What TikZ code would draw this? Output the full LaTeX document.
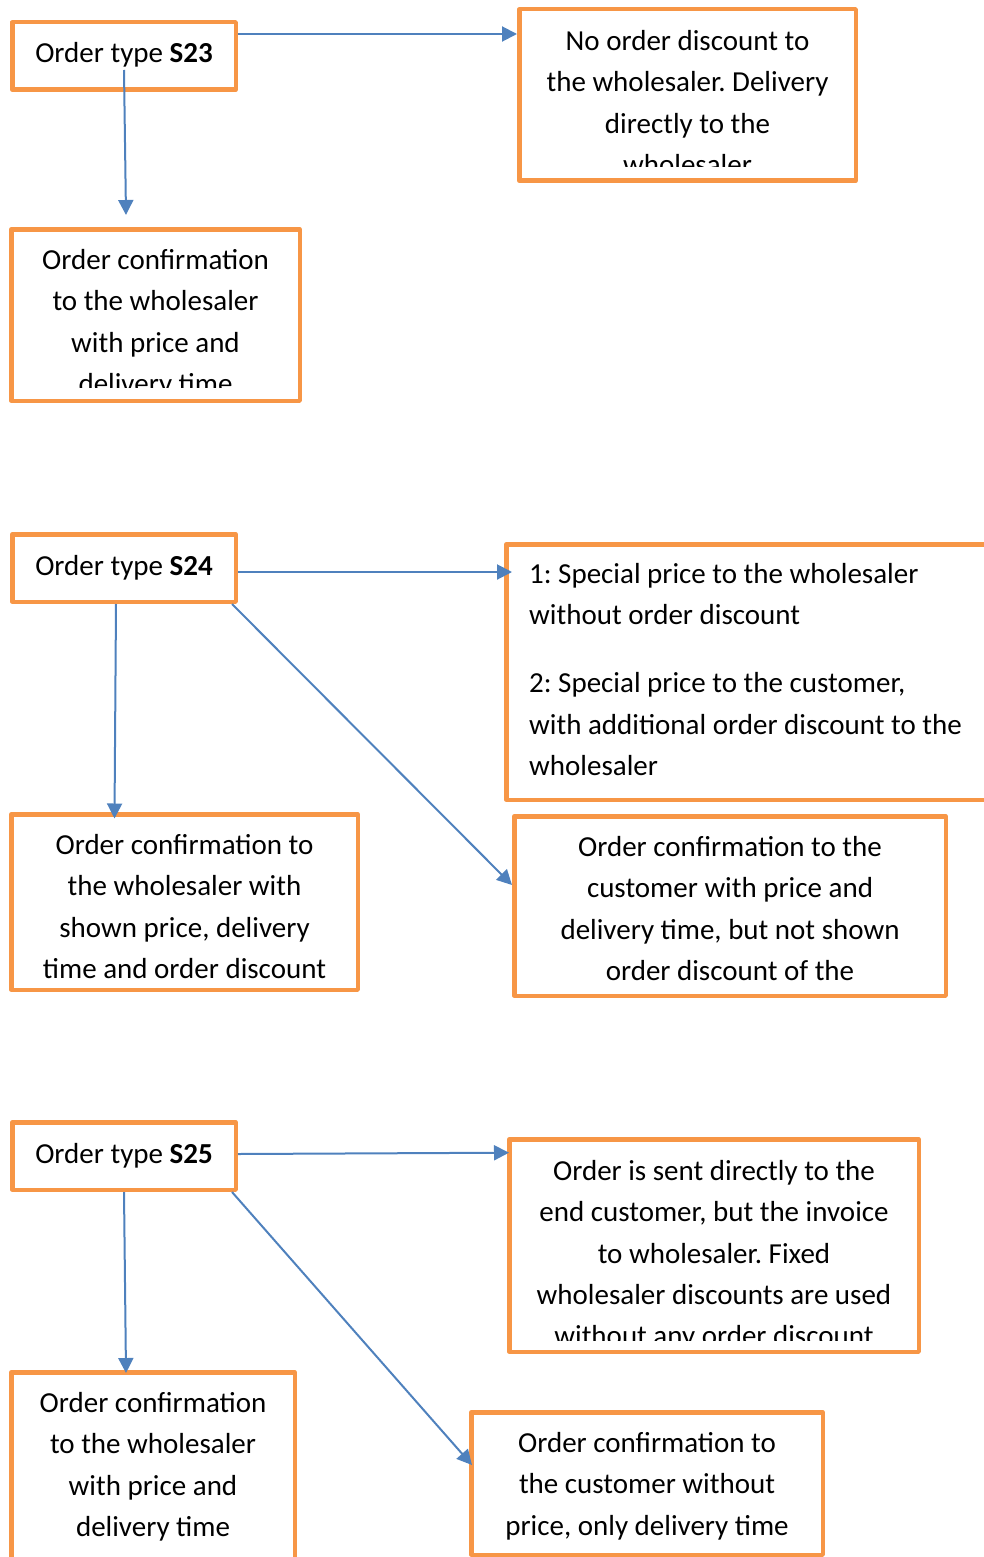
\documentclass[tikz,border=0pt]{standalone}
\usepackage{fontspec}
\setmainfont{Carlito}
\usetikzlibrary{arrows.meta}

\definecolor{boxorange}{HTML}{F79646}
\definecolor{flowblue}{HTML}{4F81BD}

% box given by its outer corners (left, top, right, bottom)
\newcommand\obox[5]{%
  \pgfmathsetmacro\oboxw{#4-#2-4.5}%
  \pgfmathsetmacro\oboxh{#5-#3-4.5}%
  \node[panel, minimum width=\oboxw pt, minimum height=\oboxh pt] (#1) at ({(#2+#4)/2},{(#3+#5)/2}) {};}
% fixes the height of a first line above its baseline
\newcommand\tstrut{\rule{0pt}{24pt}}

\tikzset{
  panel/.style={rectangle, draw=boxorange, line width=4.5pt, line join=round, fill=white, inner sep=0pt},
  txt/.style={font=\fontsize{29}{41.4}\selectfont\frenchspacing, inner sep=0pt, align=center, anchor=north},
  flow/.style={draw=flowblue, line width=2pt, -{Triangle[length=15pt,width=15pt]}}
}

\begin{document}
\begin{tikzpicture}[x=1pt,y=-1pt]
\useasboundingbox (0,0) rectangle (983,1557);

% ---------- order type S23 ----------
\obox{A}{10}{20}{238}{92}
\obox{B}{517}{7}{858}{183}
\obox{C}{9}{227}{302}{403}
\node[txt] (At) at (124,38) {\tstrut Order type \textbf{S23}};
\begin{scope}
  \clip (520,10) rectangle (855,167);
  \node[txt] (Bt) at (687.5,26) {\tstrut No order discount to\\the wholesaler. Delivery\\directly to the\\wholesaler};
\end{scope}
\begin{scope}
  \clip (12,230) rectangle (299,387);
  \node[txt] (Ct) at (155.5,245) {\tstrut Order confirmation\\to the wholesaler\\with price and\\delivery time};
\end{scope}

% ---------- order type S24 ----------
\obox{D}{10}{532}{238}{604}
\obox{E}{504}{542}{1000}{802}
\obox{F}{9}{812}{360}{992}
\obox{G}{512}{814}{948}{998}
\node[txt] (Dt) at (124,551) {\tstrut Order type \textbf{S24}};
\node[txt, align=left, anchor=north west] (Et) at (529,559)
  {\tstrut 1: Special price to the wholesaler\\without order discount\\[26.6pt]2: Special price to the customer,\\with additional order discount to the\\wholesaler};
\node[txt] (Ft) at (184.5,830) {\tstrut Order confirmation to\\the wholesaler with\\shown price, delivery\\time and order discount};
\node[txt] (Gt) at (730,832) {\tstrut Order confirmation to the\\customer with price and\\delivery time, but not shown\\order discount of the};

% ---------- order type S25 ----------
\obox{H}{10}{1120}{238}{1192}
\obox{I}{507}{1137}{921}{1354}
\obox{J}{9}{1370}{297}{1600}
\obox{K}{469}{1410}{825}{1557}
\node[txt] (Ht) at (124,1139) {\tstrut Order type \textbf{S25}};
\begin{scope}
  \clip (510,1140) rectangle (918,1340);
  \node[txt] (It) at (714,1156) {\tstrut Order is sent directly to the\\end customer, but the invoice\\to wholesaler. Fixed\\wholesaler discounts are used\\without any order discount};
\end{scope}
\node[txt] (Jt) at (153,1388) {\tstrut Order confirmation\\to the wholesaler\\with price and\\delivery time};
\node[txt] (Kt) at (647,1428) {\tstrut Order confirmation to\\the customer without\\price, only delivery time};

% ---------- connectors ----------
\draw[flow] ([yshift=22pt]A.east) -- ([yshift=22pt]A.east -| B.west);
\draw[flow] ([yshift=-14pt]A.center) -- ([xshift=-29.5pt,yshift=12pt]C.north);

\draw[flow] ([yshift=-4pt]D.east) -- ([xshift=8pt,yshift=-4pt]D.east -| E.west);
\draw[flow] ([xshift=-8pt]D.south) -- ([xshift=-70pt,yshift=-6.5pt]F.north);
\draw[flow] ([xshift=-6pt]D.south east) -- ([yshift=21pt]G.west);

\draw[flow] ([yshift=2pt]H.east) -- ([xshift=2pt,yshift=92.8pt]I.west);
\draw[flow] (H.south) -- ([xshift=-27pt,yshift=-3pt]J.north);
\draw[flow] ([xshift=-6pt]H.south east) -- ([xshift=3pt,yshift=18.5pt]K.west);
\end{tikzpicture}
\end{document}
